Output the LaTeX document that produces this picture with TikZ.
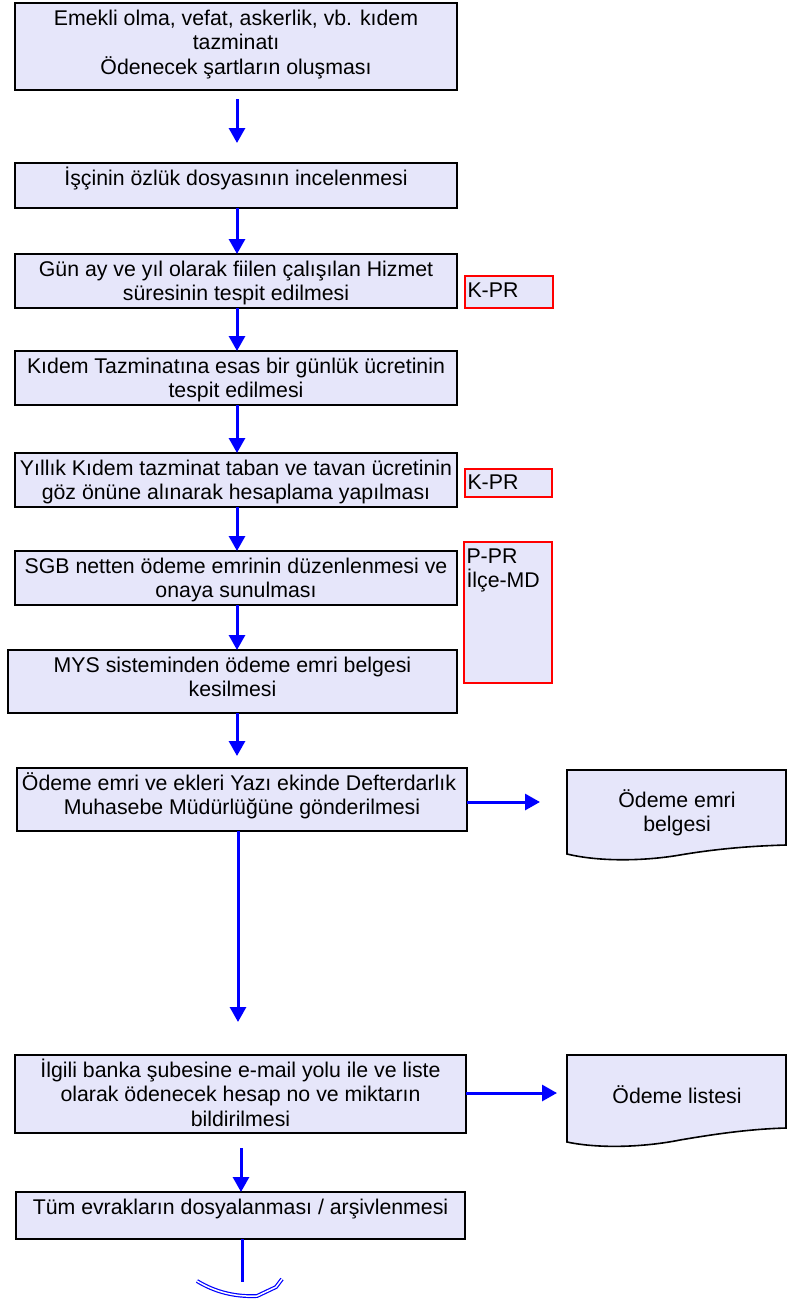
\documentclass[tikz,border=0pt]{standalone}
\usepackage{fontspec}
\setmainfont{Liberation Sans}
\usetikzlibrary{arrows.meta}
\definecolor{boxfill}{RGB}{230,230,250}
\newcommand\mytxt[4]{\parbox[c][#1][t]{#2}{\centering\rule{0pt}{#3}#4\par}}
\newcommand\mytag[4]{\parbox[c][#1][t]{#2}{\raggedright\leftskip=2.5pt\rule{0pt}{#3}#4\par}}
\tikzset{
  fnt/.style={font=\fontsize{21.3pt}{24.5pt}\selectfont},
  stepbox/.style={fnt, draw=black, line width=2pt, fill=boxfill, inner sep=0pt, outer sep=0pt, anchor=north west},
  tagbox/.style={fnt, draw=red, line width=1.5pt, fill=boxfill, inner sep=0pt, outer sep=0pt, anchor=north west},
  doc/.style={draw=black, line width=1.6pt, fill=boxfill},
  doctext/.style={fnt, inner sep=0pt, outer sep=0pt, anchor=north},
  arr/.style={draw=blue, line width=3pt, -{Triangle[width=16pt,length=15pt]}},
  ln/.style={draw=blue, line width=3pt},
  conn/.style={draw=blue, line width=1.2pt, double=white, double distance=1.5pt}
}
\begin{document}
\begin{tikzpicture}[x=1pt,y=-1pt]
\useasboundingbox (0,0) rectangle (792,1301);
\coordinate (ax) at (237,0);

\node[stepbox] (b1) at (15,3) {\mytxt{87pt}{442pt}{22pt}{Emekli olma, vefat, askerlik, vb. kıdem\\tazminatı\\Ödenecek şartların oluşması}};
\node[stepbox] (b2) at (15,163) {\mytxt{45pt}{442pt}{22pt}{İşçinin özlük dosyasının incelenmesi}};
\node[stepbox] (b3) at (15,254) {\mytxt{54pt}{442pt}{22pt}{Gün ay ve yıl olarak fiilen çalışılan Hizmet\\süresinin tespit edilmesi}};
\node[stepbox] (b4) at (15,351) {\mytxt{54pt}{442pt}{22pt}{Kıdem Tazminatına esas bir günlük ücretinin\\tespit edilmesi}};
\node[stepbox] (b5) at (15,453) {\mytxt{54pt}{442pt}{22pt}{Yıllık Kıdem tazminat taban ve tavan ücretinin\\göz önüne alınarak hesaplama yapılması}};
\node[stepbox] (b6) at (15,551) {\mytxt{54pt}{442pt}{22pt}{SGB netten ödeme emrinin düzenlenmesi ve\\onaya sunulması}};
\node[stepbox] (b7) at (8,650) {\mytxt{63pt}{449pt}{22pt}{MYS sisteminden ödeme emri belgesi\\kesilmesi}};
\node[stepbox] (b8) at (17,768) {\mytxt{63pt}{450pt}{22pt}{Ödeme emri ve ekleri Yazı ekinde Defterdarlık\kern6pt\\Muhasebe Müdürlüğüne gönderilmesi}};
\node[stepbox] (b9) at (15,1055) {\mytxt{78pt}{451pt}{22pt}{İlgili banka şubesine e-mail yolu ile ve liste\\olarak ödenecek hesap no ve miktarın\\bildirilmesi}};
\node[stepbox] (b10) at (16,1192) {\mytxt{47pt}{449pt}{22pt}{Tüm evrakların dosyalanması / arşivlenmesi}};

\node[tagbox] (k1) at (465,276) {\mytag{32pt}{88pt}{21pt}{K-PR}};
\node[tagbox] (k2) at (465,469) {\mytag{28pt}{87pt}{20pt}{K-PR}};
\node[tagbox] (p1) at (464,542) {\mytag{141pt}{88pt}{21pt}{P-PR\\İlçe-MD}};

% documents
\path[doc] (567,770) -- (786,770) -- (786,845) .. controls (750,846) and (715,849) .. (680,855) .. controls (645,861) and (600,862) .. (567,854) -- cycle;
\node[doctext] (d1) at (677,785) {\mytxt{50pt}{210pt}{22pt}{Ödeme emri\\belgesi}};
\path[doc] (567,1055) -- (786,1055) -- (786,1128) .. controls (750,1129) and (715,1134) .. (680,1140) .. controls (645,1147) and (600,1149) .. (567,1142) -- cycle;
\node[doctext] (d2) at (677,1081) {\mytxt{30pt}{210pt}{22pt}{Ödeme listesi}};

% connectors
\coordinate (a1s) at (237,99);
\coordinate (a1e) at (237,143);
\draw[arr] (a1s) -- (a1e);
\draw[arr] (b2.south -| ax) -- (b3.north -| ax);
\draw[arr] (b3.south -| ax) -- (b4.north -| ax);
\draw[arr] (b4.south -| ax) -- (b5.north -| ax);
\draw[arr] (b5.south -| ax) -- (b6.north -| ax);
\draw[arr] (b6.south -| ax) -- (b7.north -| ax);
\coordinate (a7e) at (237,756);
\draw[arr] (b7.south -| a7e) -- (a7e);
\coordinate (a8e) at (238,1022);
\draw[arr] (b8.south -| a8e) -- (a8e);
\coordinate (a9s) at (241,1148);
\draw[arr] (a9s) -- (b10.north -| a9s);
\coordinate (t1) at (540,802);
\draw[arr] (b8.east |- t1) -- (t1);
\coordinate (t2) at (557,1093);
\draw[arr] (b9.east |- t2) -- (t2);
\coordinate (c0) at (242,1282);
\draw[ln] (b10.south -| c0) -- (c0);
\draw[conn] (197,1281) .. controls (215,1292) and (235,1297) .. (257,1296) -- (276,1287) -- (282,1279);
\end{tikzpicture}
\end{document}
